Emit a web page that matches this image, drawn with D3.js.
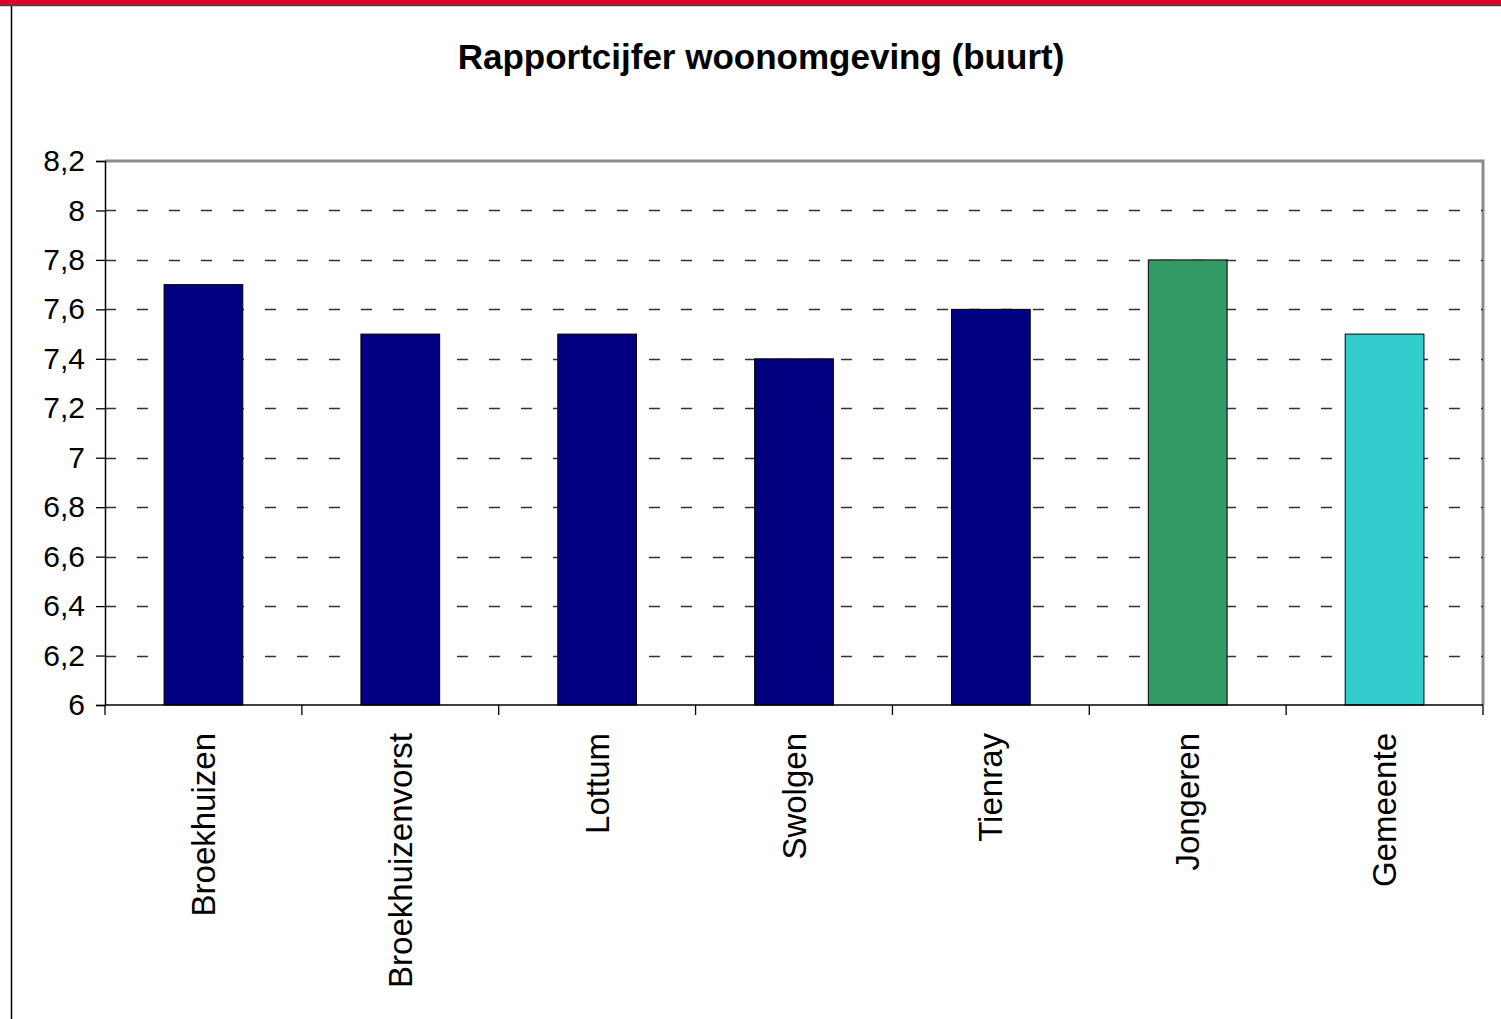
<!DOCTYPE html>
<html>
<head>
<style>
body { margin: 0; background: #fff; }
svg { display: block; font-family: "Liberation Sans", Arial, sans-serif; }
</style>
</head>
<body>
<svg width="1501" height="1019"></svg>
<script src="https://d3js.org/d3.v7.min.js"></script>
<script>
var categories = ["Broekhuizen", "Broekhuizenvorst", "Lottum", "Swolgen", "Tienray", "Jongeren", "Gemeente"];
var values = [7.7, 7.5, 7.5, 7.4, 7.6, 7.8, 7.5];
var barColors = ["#000080", "#000080", "#000080", "#000080", "#000080", "#339966", "#33cccc"];
var yTicks = [6, 6.2, 6.4, 6.6, 6.8, 7, 7.2, 7.4, 7.6, 7.8, 8, 8.2];
var title = "Rapportcijfer woonomgeving (buurt)";

var svg = d3.select("svg");
var margin = { top: 161, left: 105, right: 18, bottom: 314 };
var width = 1501 - margin.left - margin.right,
    height = 1019 - margin.top - margin.bottom;

// frame
svg.append("rect").attr("x", 0).attr("y", 0).attr("width", 1501).attr("height", 5).attr("fill", "#e0002a");
svg.append("line").attr("x1", 0).attr("x2", 1501).attr("y1", 5.5).attr("y2", 5.5).attr("stroke", "#444").attr("stroke-width", 1.5);
svg.append("line").attr("x1", 11.5).attr("x2", 11.5).attr("y1", 6).attr("y2", 1019).attr("stroke", "#000").attr("stroke-width", 1.5);

svg.append("text")
    .attr("x", 761).attr("y", 69)
    .attr("text-anchor", "middle")
    .attr("font-size", 35).attr("font-weight", "bold")
    .text(title);

var g = svg.append("g").attr("transform", "translate(" + margin.left + "," + margin.top + ")");

var x = d3.scaleBand().domain(categories).range([0, width]).paddingInner(0.6).paddingOuter(0.3);
var y = d3.scaleLinear().domain([6, 8.2]).range([height, 0]);

// plot border (top/right gray)
g.append("path")
    .attr("d", "M0,0H" + width + "V" + height)
    .attr("fill", "none").attr("stroke", "#8c8c8c").attr("stroke-width", 3);

// gridlines
g.selectAll(".grid").data(yTicks.filter(function (d) { return d > 6 && d < 8.2; }))
    .enter().append("line")
    .attr("x1", 0).attr("x2", width)
    .attr("y1", function (d) { return Math.round(y(d)) + 0.5; })
    .attr("y2", function (d) { return Math.round(y(d)) + 0.5; })
    .attr("stroke", "#333").attr("stroke-width", 1.3)
    .attr("stroke-dasharray", "11,21");

// bars
g.selectAll(".bar").data(values).enter().append("rect")
    .attr("x", function (d, i) { return x(categories[i]); })
    .attr("width", x.bandwidth())
    .attr("y", function (d) { return y(d); })
    .attr("height", function (d) { return height - y(d); })
    .attr("fill", function (d, i) { return barColors[i]; })
    .attr("stroke", "#000").attr("stroke-width", 1);

// y axis
var yAxis = g.append("g")
    .call(d3.axisLeft(y).tickValues(yTicks).tickSize(9).tickPadding(11)
        .tickFormat(function (d) { return d3.format(".1~f")(d).replace(".", ","); }));
yAxis.selectAll("text").attr("font-size", 30).attr("fill", "#000").attr("font-family", "Liberation Sans, Arial, sans-serif");
yAxis.select(".domain").attr("stroke-width", 1.5);
yAxis.selectAll(".tick line").attr("stroke-width", 1.3);

// x axis with ticks at category boundaries
var xAxisG = g.append("g").attr("transform", "translate(0," + height + ")");
xAxisG.append("line").attr("x1", 0).attr("x2", width).attr("stroke", "#000").attr("stroke-width", 1.5);
var bounds = d3.range(categories.length + 1).map(function (i) { return i * width / categories.length; });
xAxisG.selectAll(".xt").data(bounds).enter().append("line")
    .attr("x1", function (d) { return d; }).attr("x2", function (d) { return d; })
    .attr("y1", 0).attr("y2", 10)
    .attr("stroke", "#000").attr("stroke-width", 1.3);

xAxisG.selectAll(".xl").data(categories).enter().append("text")
    .attr("transform", function (d) {
        return "translate(" + (x(d) + x.bandwidth() / 2) + ",28) rotate(-90)";
    })
    .attr("text-anchor", "end")
    .attr("dy", "0.35em")
    .attr("font-size", 33)
    .text(function (d) { return d; });
</script>
</body>
</html>
